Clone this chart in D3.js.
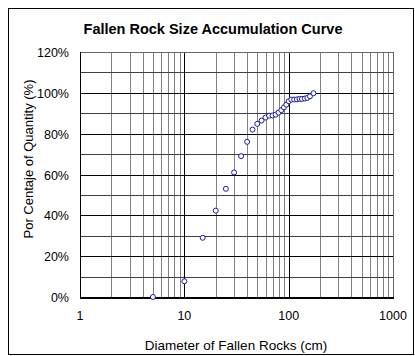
<!DOCTYPE html>
<html>
<head>
<meta charset="utf-8">
<script src="https://cdn.jsdelivr.net/npm/d3@7"></script>
<style>
  body { margin: 0; background: #fff; }
  text { font-family: Arial, "Liberation Sans", sans-serif; fill: #000; }
</style>
</head>
<body>
<div id="chart"></div>
<script>
// diameters (cm) and cumulative percentage
var diameters = [5, 10, 15, 20, 25, 30, 35, 40, 45, 50, 55, 60, 65, 70, 75, 80, 85, 90, 95, 100,
                 106, 113, 120, 127, 134, 143, 151, 160, 173]
var percents = [0, 7.7, 29, 42.3, 53, 61, 69, 76, 82, 84.8, 86.4, 87.9, 88.8, 88.9, 89.3, 90.3, 91.5, 92.9, 94.2, 95.9,
                96.7, 96.7, 96.8, 97.0, 97.0, 97.2, 97.5, 98.3, 99.8]
var xTicks = [1, 10, 100, 1000]
var yTicks = [0, 0.2, 0.4, 0.6, 0.8, 1.0, 1.2]

var title = "Fallen Rock Size Accumulation Curve"
var xTitle = "Diameter of Fallen Rocks (cm)"
var yTitle = "Por Centaje of Quantity (%)"

var width = 415, height = 356

var svg = d3.select("#chart").append("svg")
    .attr("width", width)
    .attr("height", height)

// outer chart frame
svg.append("rect")
    .attr("x", 8.5).attr("y", 8.5)
    .attr("width", 405).attr("height", 346)
    .attr("fill", "#fff")
    .attr("stroke", "#000")

var x = d3.scaleLog().domain([1, 1000]).range([80, 393])
var y = d3.scaleLinear().domain([0, 1.2]).range([297, 52])

var grid = svg.append("g").attr("shape-rendering", "crispEdges")

// vertical grid: minor at 2..9 of each decade, dark at decades
var minorX = []
for (var d = 1; d < 1000; d *= 10) {
    for (var k = 2; k <= 9; k++) minorX.push(d * k)
}
grid.selectAll(".vminor").data(minorX).enter().append("line")
    .attr("x1", v => Math.round(x(v)) + 0.5).attr("x2", v => Math.round(x(v)) + 0.5)
    .attr("y1", y(1.2)).attr("y2", y(0))
    .attr("stroke", "#808080")

// horizontal grid every 10%
var hLines = d3.range(1, 12).map(i => i / 10)
grid.selectAll(".hline").data(hLines).enter().append("line")
    .attr("x1", x(1)).attr("x2", x(1000))
    .attr("y1", v => Math.round(y(v)) + 0.5).attr("y2", v => Math.round(y(v)) + 0.5)
    .attr("stroke", (v, i) => i % 2 === 1 ? "#000" : "#404040")

grid.selectAll(".vmajor").data([10, 100]).enter().append("line")
    .attr("x1", v => Math.round(x(v)) + 0.5).attr("x2", v => Math.round(x(v)) + 0.5)
    .attr("y1", y(1.2)).attr("y2", y(0))
    .attr("stroke", "#000")

// plot frame
grid.append("line").attr("x1", x(1)).attr("x2", x(1000)).attr("y1", y(1.2) + 0.5).attr("y2", y(1.2) + 0.5).attr("stroke", "#666")
grid.append("line").attr("x1", x(1000) + 0.5).attr("x2", x(1000) + 0.5).attr("y1", y(1.2)).attr("y2", y(0)).attr("stroke", "#666")
grid.append("line").attr("x1", x(1) + 0.5).attr("x2", x(1) + 0.5).attr("y1", y(1.2)).attr("y2", y(0) + 1).attr("stroke", "#000")
grid.append("line").attr("x1", x(1)).attr("x2", x(1000) + 1).attr("y1", y(0) + 0.5).attr("y2", y(0) + 0.5).attr("stroke", "#000").attr("stroke-width", 2)

// tick labels
svg.selectAll(".ylab").data(yTicks).enter().append("text")
    .attr("x", 69)
    .attr("y", v => y(v))
    .attr("dy", "0.4em")
    .attr("text-anchor", "end")
    .style("font-size", "12.5px")
    .text(d3.format(".0%"))

svg.selectAll(".xlab").data(xTicks).enter().append("text")
    .attr("x", v => x(v))
    .attr("y", 320)
    .attr("text-anchor", "middle")
    .style("font-size", "12.5px")
    .text(v => v)

// titles
svg.append("text")
    .attr("x", 213).attr("y", 34)
    .attr("text-anchor", "middle")
    .style("font-size", "14.5px").style("font-weight", "bold")
    .text(title)

svg.append("text")
    .attr("x", 236).attr("y", 350)
    .attr("text-anchor", "middle")
    .style("font-size", "13.5px")
    .text(xTitle)

svg.append("text")
    .attr("transform", "translate(33,159) rotate(-90)")
    .attr("text-anchor", "middle")
    .style("font-size", "13px")
    .text(yTitle)

// points
svg.selectAll(".pt").data(diameters).enter().append("circle")
    .attr("cx", (v, i) => x(v))
    .attr("cy", (v, i) => y(percents[i] / 100))
    .attr("r", 2.5)
    .attr("fill", "#fff")
    .attr("stroke", "#1a1aa0")
    .attr("stroke-width", 1)
</script>
</body>
</html>
